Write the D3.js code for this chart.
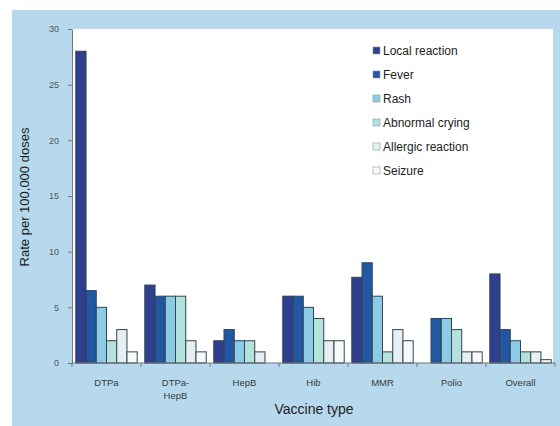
<!DOCTYPE html>
<html><head><meta charset="utf-8">
<script src="https://cdn.jsdelivr.net/npm/d3@7"></script>
<style>body{margin:0;background:#fff}svg{display:block}</style>
</head><body>
<script>
const categories = ["DTPa", "DTPa-|HepB", "HepB", "Hib", "MMR", "Polio", "Overall"];
const seriesNames = ["Local reaction", "Fever", "Rash", "Abnormal crying", "Allergic reaction", "Seizure"];
const localReaction = [28, 7, 2, 6, 7.7, 0, 8];
const fever = [6.5, 6, 3, 6, 9, 4, 3];
const rash = [5, 6, 2, 5, 6, 4, 2];
const abnormalCrying = [2, 6, 2, 4, 1, 3, 1];
const allergicReaction = [3, 2, 1, 2, 3, 1, 1];
const seizure = [1, 1, 0, 2, 2, 1, 0.3];
const yTicks = [0, 5, 10, 15, 20, 25, 30];
const colors = ["#2d3f8e", "#2157a3", "#8ccbe6", "#b3e1dc", "#e6eff1", "#f8f9f9"];

const series = [localReaction, fever, rash, abnormalCrying, allergicReaction, seizure];
const W = 560, H = 426;
const svg = d3.select("body").append("svg").attr("width", W).attr("height", H);

svg.append("rect").attr("x", 12).attr("y", 10).attr("width", W - 12).attr("height", H - 10).attr("fill", "#b6d9ee");
const m = {l: 72, r: 555, t: 29, b: 363};
svg.append("rect").attr("x", m.l).attr("y", m.t).attr("width", 553 - m.l).attr("height", m.b - m.t).attr("fill", "#ffffff");

const x0 = d3.scaleBand().domain(categories).range([m.l, m.r]).paddingInner(0.11).paddingOuter(0.055);
const x1 = d3.scaleBand().domain(d3.range(6)).range([0, x0.bandwidth()]);
const y = d3.scaleLinear().domain([0, 30]).range([m.b, m.t]);

const g = svg.append("g");
categories.forEach((c, ci) => {
  series.forEach((s, si) => {
    const v = s[ci];
    if (v <= 0) return;
    g.append("rect")
      .attr("x", x0(c) + x1(si))
      .attr("y", y(v))
      .attr("width", x1.bandwidth())
      .attr("height", y(0) - y(v))
      .attr("fill", colors[si])
      .attr("stroke", "#34434f").attr("stroke-width", 1);
  });
});

// y axis
const yAxis = svg.append("g").attr("transform", `translate(${m.l},0)`)
  .call(d3.axisLeft(y).tickValues(yTicks).tickSize(4).tickSizeOuter(0));
yAxis.select(".domain").attr("stroke", "#777");
yAxis.selectAll(".tick line").attr("stroke", "#777");
yAxis.selectAll("text").attr("font-family", "Liberation Sans, Arial, sans-serif").attr("font-size", 9).attr("fill", "#555").attr("dx", -6);

// x axis
const xTickScale = d3.scaleLinear().domain([0, categories.length]).range([m.l, m.r]);
const xa = svg.append("g");
xa.append("line").attr("x1", m.l).attr("x2", m.r).attr("y1", m.b).attr("y2", m.b).attr("stroke", "#777");
d3.range(categories.length + 1).forEach(i => {
  xa.append("line").attr("x1", xTickScale(i)).attr("x2", xTickScale(i)).attr("y1", m.b).attr("y2", m.b + 4).attr("stroke", "#777");
});
categories.forEach(c => {
  const parts = c.split("|");
  const t = xa.append("text").attr("x", x0(c) + x0.bandwidth() / 2).attr("y", 386)
    .attr("text-anchor", "middle").attr("font-family", "Liberation Sans, Arial, sans-serif")
    .attr("font-size", 9.5).attr("fill", "#3a3a3a");
  parts.forEach((p, i) => t.append("tspan").attr("x", x0(c) + x0.bandwidth() / 2).attr("dy", i ? 13 : 0).text(p));
});

svg.append("text").attr("x", 314).attr("y", 414).attr("text-anchor", "middle")
  .attr("font-family", "Liberation Sans, Arial, sans-serif").attr("font-size", 14).attr("fill", "#222").text("Vaccine type");
svg.append("text").attr("transform", "translate(29,197) rotate(-90)").attr("text-anchor", "middle")
  .attr("font-family", "Liberation Sans, Arial, sans-serif").attr("font-size", 13).attr("fill", "#222").text("Rate per 100,000 doses");

// legend
const lg = svg.append("g");
seriesNames.forEach((n, i) => {
  const ly = 51 + i * 24;
  lg.append("rect").attr("x", 373).attr("y", ly - 4).attr("width", 7).attr("height", 7)
    .attr("fill", colors[i]).attr("stroke", "#8a9aa5").attr("stroke-width", 0.6);
  lg.append("text").attr("x", 383).attr("y", ly + 4).attr("font-family", "Liberation Sans, Arial, sans-serif")
    .attr("font-size", 12).attr("fill", "#222").text(n);
});
</script>
</body></html>
